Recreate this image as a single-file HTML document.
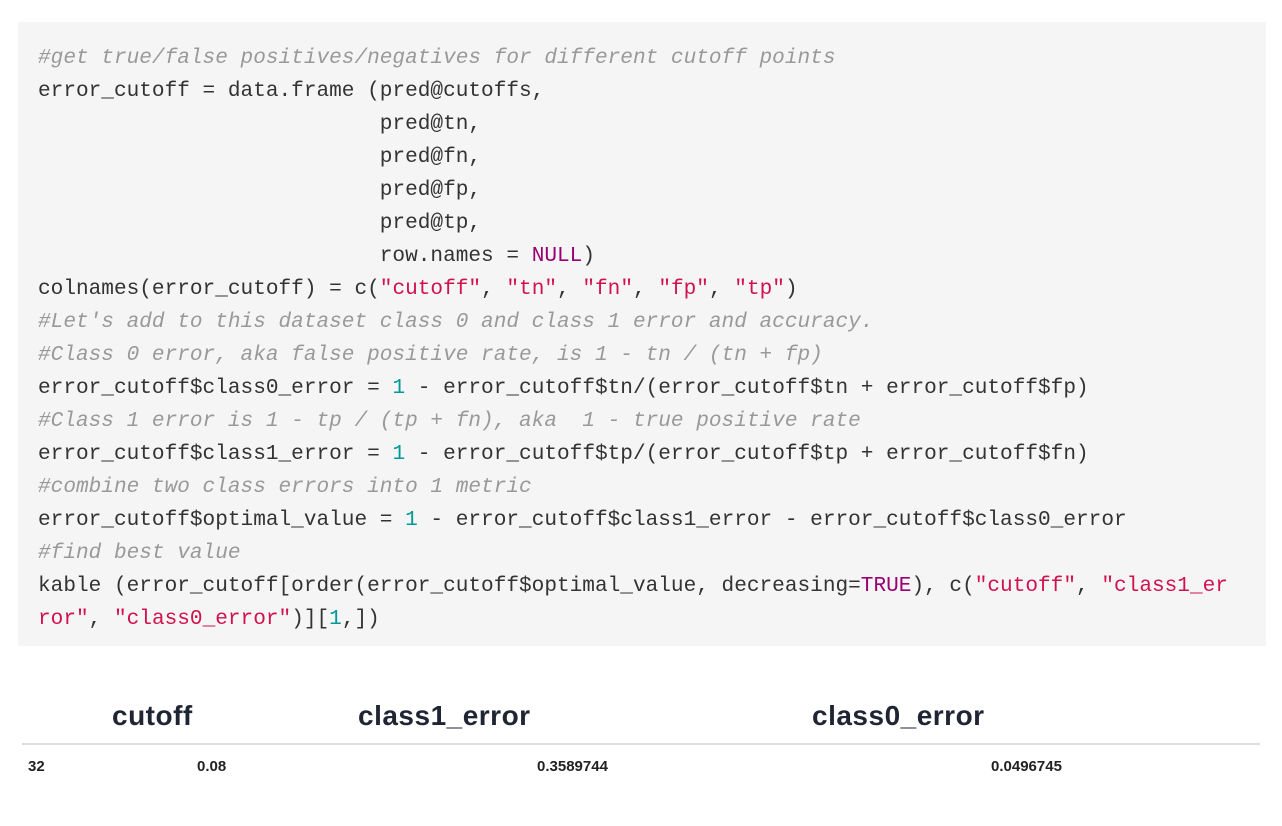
<!DOCTYPE html>
<html><head><meta charset="utf-8"><style>
body{margin:0;width:1282px;height:826px;background:#fff;position:relative;overflow:hidden;font-family:"Liberation Sans",sans-serif}
.code{position:absolute;left:18px;top:22px;width:1248px;height:624px;background:#f5f5f5}
pre{position:absolute;left:38px;top:42px;margin:0;font-family:"Liberation Mono",monospace;font-size:21.1px;line-height:33px;color:#333;white-space:pre}
.c{color:#999;font-style:italic}.s{color:#d0124f}.n{color:#099}.k{color:#990073}
.h{position:absolute;top:700px;font-weight:bold;font-size:28px;color:#1f2533;letter-spacing:0.5px}
.d{position:absolute;top:758px;font-weight:bold;font-size:15px;color:#222}
.line{position:absolute;left:22px;top:743px;width:1238px;height:2px;background:#ddd}
</style></head><body>
<div class="code"></div>
<pre><span class="c">#get true/false positives/negatives for different cutoff points</span>
error_cutoff = data.frame (pred@cutoffs,
                           pred@tn,
                           pred@fn,
                           pred@fp,
                           pred@tp,
                           row.names = <span class="k">NULL</span>)
colnames(error_cutoff) = c(<span class="s">"cutoff"</span>, <span class="s">"tn"</span>, <span class="s">"fn"</span>, <span class="s">"fp"</span>, <span class="s">"tp"</span>)
<span class="c">#Let's add to this dataset class 0 and class 1 error and accuracy.</span>
<span class="c">#Class 0 error, aka false positive rate, is 1 - tn / (tn + fp)</span>
error_cutoff$class0_error = <span class="n">1</span> - error_cutoff$tn/(error_cutoff$tn + error_cutoff$fp)
<span class="c">#Class 1 error is 1 - tp / (tp + fn), aka  1 - true positive rate</span>
error_cutoff$class1_error = <span class="n">1</span> - error_cutoff$tp/(error_cutoff$tp + error_cutoff$fn)
<span class="c">#combine two class errors into 1 metric</span>
error_cutoff$optimal_value = <span class="n">1</span> - error_cutoff$class1_error - error_cutoff$class0_error
<span class="c">#find best value</span>
kable (error_cutoff[order(error_cutoff$optimal_value, decreasing=<span class="k">TRUE</span>), c(<span class="s">"cutoff"</span>, <span class="s">"class1_er</span>
<span class="s">ror"</span>, <span class="s">"class0_error"</span>)][<span class="n">1</span>,])</pre>
<div class="h" style="left:112px">cutoff</div>
<div class="h" style="left:358px">class1_error</div>
<div class="h" style="left:812px">class0_error</div>
<div class="line"></div>
<div class="d" style="left:28px">32</div>
<div class="d" style="left:197px">0.08</div>
<div class="d" style="left:537px">0.3589744</div>
<div class="d" style="left:991px">0.0496745</div>
</body></html>
